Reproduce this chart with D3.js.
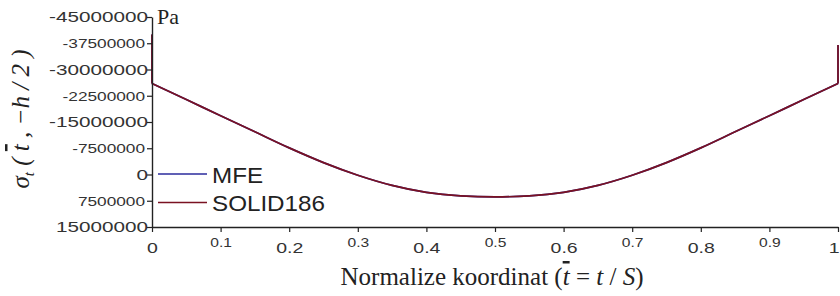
<!DOCTYPE html>
<html><head><meta charset="utf-8">
<script src="https://cdn.jsdelivr.net/npm/d3@7"></script>
<style>body{margin:0;background:#fff}svg{display:block}</style>
</head><body>
<script>
// ---- data ----
const tCoords = [0, 0.05, 0.1, 0.15, 0.2, 0.25, 0.3, 0.35, 0.4, 0.45, 0.5, 0.55, 0.6, 0.65, 0.7, 0.75, 0.8, 0.85, 0.9, 0.95, 1];
const mfeValues = [-26000000, -21400000, -16800000, -12200000, -7600000, -3400000, 200000, 3100000, 5100000, 6100000, 6400000, 6100000, 5100000, 3100000, 200000, -3400000, -7600000, -12200000, -16800000, -21400000, -26000000];
const solidValues = [-26000000, -21400000, -16800000, -12200000, -7600000, -3400000, 200000, 3100000, 5100000, 6100000, 6400000, 6100000, 5100000, 3100000, 200000, -3400000, -7600000, -12200000, -16800000, -21400000, -26000000];
// edge singular peaks (t, from value, to value)
const edgePeaks = [[0, -26000000, -40000000], [1, -26000000, -37000000]];
const seriesNames = ["MFE", "SOLID186"];
const xTicks = [0, 0.1, 0.2, 0.3, 0.4, 0.5, 0.6, 0.7, 0.8, 0.9, 1];
const yTicks = [-45000000, -37500000, -30000000, -22500000, -15000000, -7500000, 0, 7500000, 15000000];

const W = 840, H = 296;
const svg = d3.select("body").append("svg").attr("width", W).attr("height", H);
const x = d3.scaleLinear().domain([0, 1]).range([152, 838]);
const y = d3.scaleLinear().domain([-45000000, 15000000]).range([17, 227]);

const colors = ["#2b2b9c", "#7a1222"];

// curves
const line = d3.line().x(d => x(d[0])).y(d => y(d[1])).curve(d3.curveMonotoneX);
[mfeValues, solidValues].forEach((vals, i) => {
  svg.append("path").datum(tCoords.map((t, j) => [t, vals[j]]))
    .attr("d", line).attr("fill", "none").attr("stroke", colors[i]).attr("stroke-width", 1.7);
  edgePeaks.forEach(p => {
    svg.append("line").attr("x1", x(p[0])).attr("x2", x(p[0])).attr("y1", y(p[1])).attr("y2", y(p[2]))
      .attr("stroke", colors[i]).attr("stroke-width", 1.7);
  });
});

// y axis
const yAxis = svg.append("g").attr("transform", "translate(152,0)")
  .call(d3.axisLeft(y).tickValues(yTicks).tickSize(5).tickSizeOuter(0).tickFormat(d => String(d)));
yAxis.select(".domain").attr("stroke", "#222").attr("stroke-width", 1.4);
yAxis.selectAll(".tick line").attr("stroke", "#222").attr("stroke-width", 1.2);
yAxis.selectAll(".tick text").each(function(d, i) {
  const big = i % 2 === 0;
  d3.select(this).attr("x", null).attr("dy", null)
    .attr("fill", "#333").attr("font-family", "Liberation Sans, Arial, sans-serif")
    .attr("font-size", big ? 15 : 12.5)
    .attr("text-anchor", "end").attr("dominant-baseline", "central")
    .attr("transform", `translate(${big ? -4 : -7},0) scale(1.38,1)`);
});

// x axis
const xAxis = svg.append("g").attr("transform", "translate(0,227)")
  .call(d3.axisBottom(x).tickValues(xTicks).tickSize(5).tickSizeOuter(0).tickFormat(d => d === 0 ? "0" : d === 1 ? "1" : d3.format(".1f")(d)));
xAxis.select(".domain").attr("stroke", "#222").attr("stroke-width", 1.4);
xAxis.selectAll(".tick line").attr("stroke", "#222").attr("stroke-width", 1.2);
xAxis.selectAll(".tick text").each(function(d, i) {
  const big = i % 2 === 0;
  d3.select(this).attr("y", null).attr("dy", null)
    .attr("fill", "#333").attr("font-family", "Liberation Sans, Arial, sans-serif")
    .attr("font-size", big ? 15 : 12)
    .attr("text-anchor", d === 1 ? "end" : "middle")
    .attr("dominant-baseline", "central")
    .attr("transform", `translate(${d === 1 ? 1 : 0},${big ? 21 : 16}) scale(1.3,1)`);
});

// unit label
svg.append("text").attr("x", 157).attr("y", 24).attr("font-family", "Liberation Serif, Times New Roman, serif")
  .attr("font-size", 22).attr("fill", "#222").text("Pa");

// legend
seriesNames.forEach((name, i) => {
  const ly = 174 + i * 28.5;
  svg.append("line").attr("x1", 158).attr("x2", 207).attr("y1", ly).attr("y2", ly)
    .attr("stroke", colors[i]).attr("stroke-width", 1.7);
  svg.append("text").attr("dominant-baseline", "central")
    .attr("transform", `translate(212,${ly + 1}) scale(1.1,1)`)
    .attr("font-family", "Liberation Sans, Arial, sans-serif").attr("font-size", 22).attr("fill", "#222").text(name);
});

// x title
const xt = svg.append("text").attr("x", 492).attr("y", 285).attr("text-anchor", "middle")
  .attr("font-family", "Liberation Serif, Times New Roman, serif").attr("font-size", 25).attr("fill", "#222");
xt.append("tspan").text("Normalize koordinat (");
xt.append("tspan").attr("font-style", "italic").attr("text-decoration", "overline").text("t");
xt.append("tspan").text(" = ");
xt.append("tspan").attr("font-style", "italic").text("t");
xt.append("tspan").text(" / ");
xt.append("tspan").attr("font-style", "italic").text("S");
xt.append("tspan").text(")");

// y title
const yt = svg.append("text").attr("transform", "translate(29,119) rotate(-90)").attr("text-anchor", "middle")
  .attr("font-family", "Liberation Serif, Times New Roman, serif").attr("font-size", 25).attr("font-style", "italic").attr("fill", "#222");
yt.append("tspan").text("σ");
yt.append("tspan").attr("font-size", 15).attr("dy", 5).text("t");
yt.append("tspan").attr("dy", -5).text(" ( ");
yt.append("tspan").attr("text-decoration", "overline").text("t");
yt.append("tspan").text(" , −");
yt.append("tspan").text("h");
yt.append("tspan").text(" / 2 )");
</script>
</body></html>
